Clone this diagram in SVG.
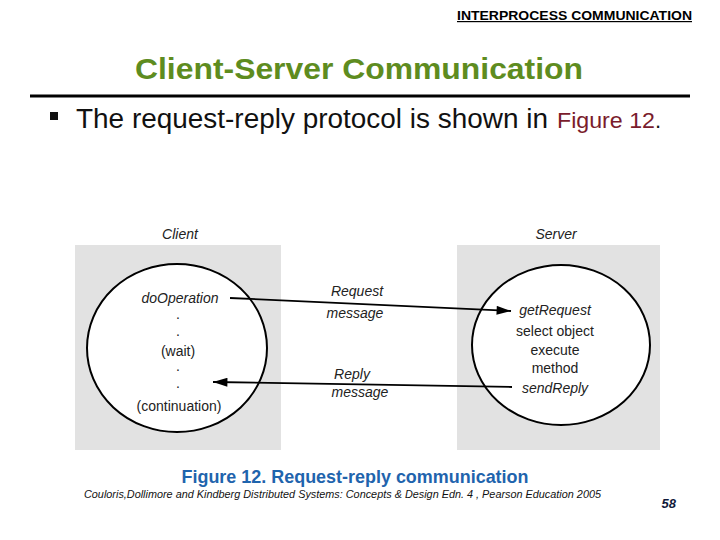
<svg xmlns="http://www.w3.org/2000/svg" width="720" height="540" viewBox="0 0 720 540">
<style>
  .sans { font-family: "Liberation Sans", Arial, sans-serif; }
  .lbl { font-family: "Liberation Sans", Arial, sans-serif; font-size: 14px; fill: #222; text-anchor: middle; }
  .it { font-style: italic; }
  .panel { fill: #e2e2e2; }
  .proc { fill: #ffffff; stroke: #000; stroke-width: 2; }
  .conn { stroke: #000; stroke-width: 1.8; fill: none; }
</style>
<defs>
  <marker id="arr" viewBox="0 0 16 10" refX="16" refY="5" markerWidth="16" markerHeight="9" markerUnits="userSpaceOnUse" orient="auto">
    <path d="M0,0 L16,5 L0,10 Z" fill="#000"/>
  </marker>
</defs>
<rect width="720" height="540" fill="#ffffff"/>

<g id="header">
  <text class="sans" x="692" y="20" font-size="12" font-weight="bold" text-anchor="end" text-decoration="underline" textLength="235" lengthAdjust="spacingAndGlyphs">INTERPROCESS COMMUNICATION</text>
  <text class="sans" x="359" y="79" font-size="30" font-weight="bold" fill="#5e8c1f" text-anchor="middle" textLength="448" lengthAdjust="spacingAndGlyphs">Client-Server Communication</text>
  <line x1="30" y1="96" x2="690" y2="96" stroke="#000" stroke-width="3"/>
  <rect x="50" y="112" width="8" height="8" fill="#111"/>
  <text class="sans" x="76" y="128" font-size="27" fill="#111" textLength="472" lengthAdjust="spacingAndGlyphs">The request-reply protocol is shown in</text>
  <text class="sans" x="557" y="128" font-size="22" fill="#7a1c2c" textLength="98" lengthAdjust="spacingAndGlyphs">Figure 12</text>
  <text class="sans" x="655" y="128" font-size="22" fill="#111">.</text>
</g>

<g id="client">
  <rect class="panel" x="75" y="245" width="206" height="205"/>
  <ellipse class="proc" cx="177" cy="348" rx="90" ry="84"/>
  <text class="lbl it" x="180" y="239" font-size="13">Client</text>
  <text class="lbl it" x="180" y="303">doOperation</text>
  <text class="lbl" x="178" y="319">.</text>
  <text class="lbl" x="178" y="336">.</text>
  <text class="lbl" x="178" y="356">(wait)</text>
  <text class="lbl" x="178" y="371">.</text>
  <text class="lbl" x="178" y="388">.</text>
  <text class="lbl" x="179" y="411">(continuation)</text>
</g>

<g id="server">
  <rect class="panel" x="457" y="245" width="203" height="205"/>
  <ellipse class="proc" cx="561" cy="345" rx="89" ry="80"/>
  <text class="lbl it" x="556" y="239" font-size="13">Server</text>
  <text class="lbl it" x="555" y="315">getRequest</text>
  <text class="lbl" x="555" y="336">select object</text>
  <text class="lbl" x="555" y="355">execute</text>
  <text class="lbl" x="555" y="373">method</text>
  <text class="lbl it" x="555" y="393">sendReply</text>
</g>

<g id="connectors">
  <line class="conn" x1="230" y1="298" x2="511" y2="311" marker-end="url(#arr)"/>
  <line class="conn" x1="512" y1="387" x2="213" y2="382" marker-end="url(#arr)"/>
  <text class="lbl it" x="357" y="296">Request</text>
  <text class="lbl it" x="355" y="318">message</text>
  <text class="lbl it" x="352" y="379">Reply</text>
  <text class="lbl it" x="360" y="397">message</text>
</g>

<g id="caption">
  <text class="sans" x="355" y="483" font-size="18" font-weight="bold" fill="#1f64ad" text-anchor="middle" textLength="347" lengthAdjust="spacingAndGlyphs">Figure 12. Request-reply communication</text>
  <text class="sans" x="84" y="498" font-size="10" font-style="italic" fill="#111" textLength="517" lengthAdjust="spacingAndGlyphs">Couloris,Dollimore and Kindberg  Distributed Systems: Concepts &amp; Design  Edn. 4 , Pearson Education 2005</text>
  <text class="sans" x="676" y="508" font-size="13" font-weight="bold" font-style="italic" fill="#111a3a" text-anchor="end">58</text>
</g>
</svg>
